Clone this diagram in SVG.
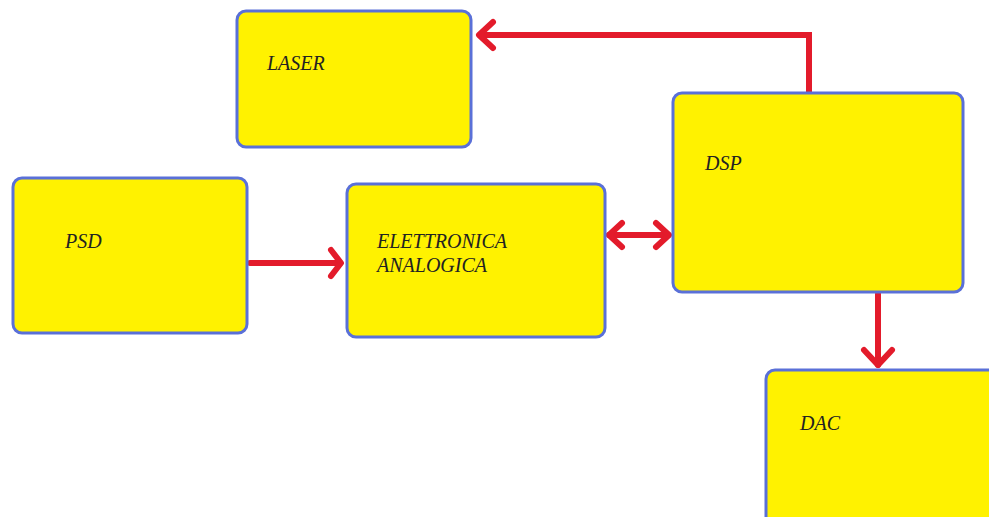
<svg xmlns="http://www.w3.org/2000/svg" width="989" height="517" viewBox="0 0 989 517">
<style>
.box{fill:#fff200;stroke:#5a70d8;stroke-width:3}
.lbl{font-family:"Liberation Serif","Times New Roman",serif;font-style:italic;font-size:20px;fill:#222}
.wire{fill:none;stroke:#e31b2b;stroke-width:6;stroke-linecap:round;stroke-linejoin:miter}
.head{fill:none;stroke:#e31b2b;stroke-width:6;stroke-linecap:round;stroke-linejoin:round}
</style>
<rect width="989" height="517" fill="#ffffff"/>
<g id="connectors">
<path class="wire" d="M809,92 V35 H480"/>
<path class="head" d="M493,22 L479,35 L493,48"/>
<path class="wire" d="M609,235 H668"/>
<path class="head" d="M622,223 L609,235 L622,247"/>
<path class="head" d="M656,223 L669,235 L656,247"/>
<path class="wire" d="M250,263 H340"/>
<path class="head" d="M331,250 L341,263 L331,276"/>
<path class="wire" d="M878,294 V365"/>
<path class="head" d="M864,350 L878,365 L892,350"/>
</g>
<g id="laser">
<rect class="box" x="237" y="11" width="234" height="136" rx="9"/>
<text class="lbl" x="267" y="70">LASER</text>
</g>
<g id="dsp">
<rect class="box" x="673" y="93" width="290" height="199" rx="9"/>
<text class="lbl" x="705" y="170">DSP</text>
</g>
<g id="psd">
<rect class="box" x="13" y="178" width="234" height="155" rx="9"/>
<text class="lbl" x="65" y="248">PSD</text>
</g>
<g id="elettronica">
<rect class="box" x="347" y="184" width="258" height="153" rx="9"/>
<text class="lbl" x="377" y="248">ELETTRONICA</text>
<text class="lbl" x="377" y="272">ANALOGICA</text>
</g>
<g id="dac">
<rect class="box" x="766" y="370" width="240" height="160" rx="9"/>
<text class="lbl" x="800" y="430">DAC</text>
</g>
</svg>
